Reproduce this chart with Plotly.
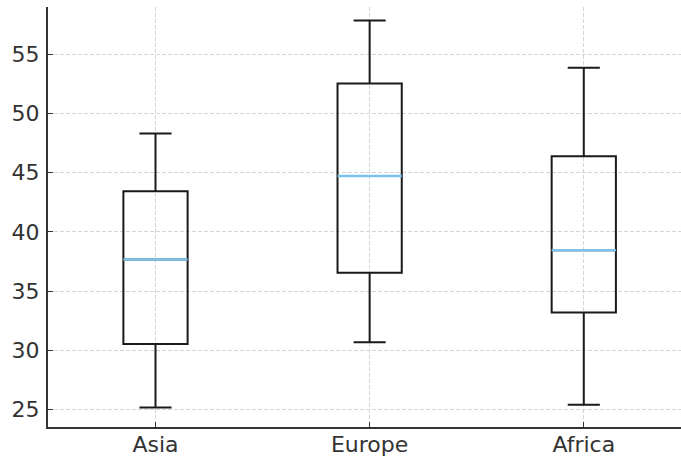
import plotly.graph_objects as go

# Box-plot summary statistics per region
regions = ["Asia", "Europe", "Africa"]
lower_whisker = [25.16, 30.68, 25.41]
q1_values = [30.53, 36.54, 33.19]
medians = [37.67, 44.73, 38.45]
q3_values = [43.44, 52.54, 46.40]
upper_whisker = [48.32, 57.87, 53.86]

y_ticks = [25, 30, 35, 40, 45, 50, 55]

box_width = 0.3
positions = list(range(len(regions)))

fig = go.Figure()

for i, name in enumerate(regions):
    fig.add_trace(go.Box(
        x=[positions[i]],
        q1=[q1_values[i]],
        median=[medians[i]],
        q3=[q3_values[i]],
        lowerfence=[lower_whisker[i]],
        upperfence=[upper_whisker[i]],
        width=box_width,
        whiskerwidth=0.5,
        boxpoints=False,
        fillcolor="rgba(0,0,0,0)",
        line=dict(color="#1a1a1a", width=2),
        hoverinfo="skip",
        showlegend=False,
    ))

# Median lines drawn on top in light blue
for i, name in enumerate(regions):
    fig.add_trace(go.Scatter(
        x=[positions[i] - box_width / 2, positions[i] + box_width / 2],
        y=[medians[i], medians[i]],
        mode="lines",
        line=dict(color="#7CC4EC", width=2.5),
        hoverinfo="skip",
        showlegend=False,
    ))

grid_style = dict(
    showgrid=True,
    gridcolor="#d4d4d4",
    gridwidth=1,
    griddash="4px,2px",
    zeroline=False,
    showline=True,
    linecolor="#333333",
    linewidth=2,
    ticks="inside",
    ticklen=5,
    tickwidth=1,
    tickcolor="#333333",
    mirror=False,
)

fig.update_layout(
    width=681,
    height=461,
    margin=dict(l=48, r=0, t=7, b=34),
    paper_bgcolor="white",
    plot_bgcolor="white",
    font=dict(family="DejaVu Sans", size=22, color="#333333"),
    xaxis=dict(
        range=[-0.502, 2.454],
        tickmode="array",
        tickvals=positions,
        ticktext=regions,
        ticklabelstandoff=-3,
        **grid_style,
    ),
    yaxis=dict(
        range=[23.52, 59.0],
        tickmode="array",
        tickvals=y_ticks,
        ticktext=[str(v) for v in y_ticks],
        ticklabelstandoff=2,
        **grid_style,
    ),
)

fig.write_html("out.html")
